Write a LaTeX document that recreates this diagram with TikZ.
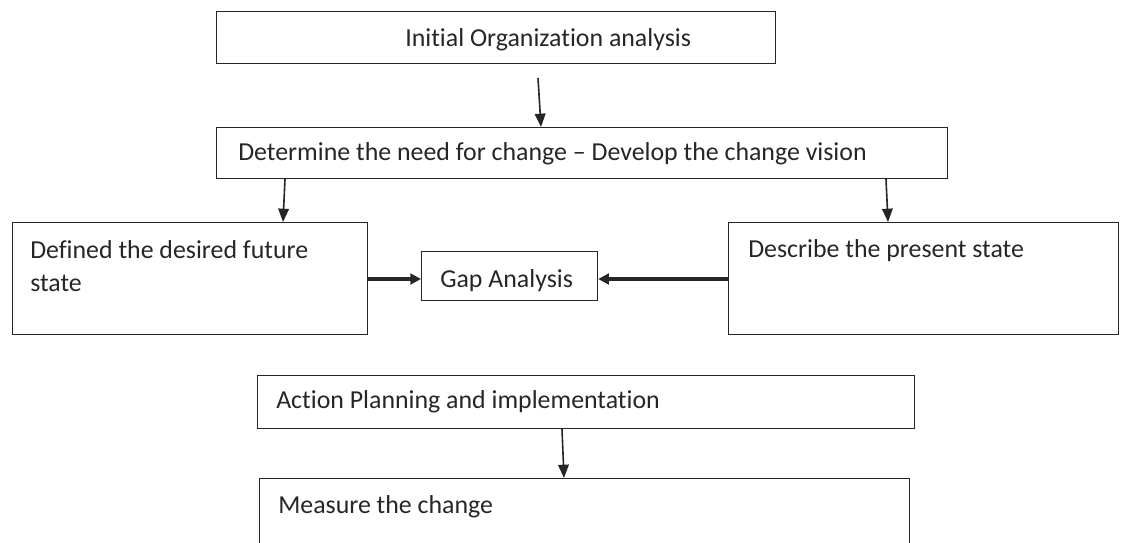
\documentclass[tikz,border=0pt]{standalone}
\usepackage{fontspec}
\setmainfont{Carlito}[Ligatures=NoCommon]
\usetikzlibrary{arrows.meta,calc}
\begin{document}
\begin{tikzpicture}[x=0.75pt,y=-0.75pt,
  box/.style={draw=black!85, line width=0.9pt, rectangle, inner sep=0pt, anchor=north west},
  txt/.style={inner sep=0pt, anchor=base west, font=\fontsize{19.4}{23}\selectfont, text=black!85},
  thinarrow/.style={draw=black!85, line width=1.2pt, -{Triangle[length=10pt,width=8pt]}},
  thickarrow/.style={draw=black!85, line width=2.4pt, -{Triangle[length=8pt,width=8pt]}}]
\useasboundingbox (0,0) rectangle (1126,542);
\clip (0,0) rectangle (1126,542);

% boxes
\node[box, minimum width=419.25pt, minimum height=39pt]   (b1) at (216,11)  {};
\node[box, minimum width=548.25pt, minimum height=38.25pt] (b2) at (216,127) {};
\node[box, minimum width=266.25pt, minimum height=84pt]    (b3) at (12,222)  {};
\node[box, minimum width=132pt,    minimum height=36.75pt] (b4) at (421,251) {};
\node[box, minimum width=292.5pt,  minimum height=84pt]    (b5) at (728,222) {};
\node[box, minimum width=492.75pt, minimum height=39.75pt] (b6) at (257,375) {};
\node[box, minimum width=487.5pt,  minimum height=60pt]    (b7) at (259,478) {};

% labels
\node[txt] (t1) at (405,46)  {Initial Organization analysis};
\node[txt] (t2) at (238,160) {Determine the need for change -- Develop the change vision};
\node[txt] (t3) at (30,258)  {Defined the desired future};
\node[txt] (t3b) at (30,291) {state};
\node[txt] (t4) at (440,287) {Gap Analysis};
\node[txt] (t5) at (748,257) {Describe the present state};
\node[txt] (t6) at (276,408) {Action Planning and implementation};
\node[txt] (t7) at (278,513) {Measure the change};

% connectors
\coordinate (s1) at (538,78);
\draw[thinarrow] (s1) -- ($(b2.north west)+(325,0)$);
\draw[thinarrow] ($(b2.south west)+(69,0)$) -- ($(b3.north west)+(271,0)$);
\draw[thinarrow] ($(b2.south west)+(670,0)$) -- ($(b5.north west)+(160,0)$);
\draw[thickarrow] ($(b3.north east)+(0,57)$) -- ($(b4.north west)+(0,28)$);
\draw[thickarrow] ($(b5.north west)+(0,57)$) -- ($(b4.north east)+(0,28)$);
\draw[thinarrow] ($(b6.south west)+(305,0)$) -- ($(b7.north west)+(305,0)$);
\end{tikzpicture}
\end{document}
